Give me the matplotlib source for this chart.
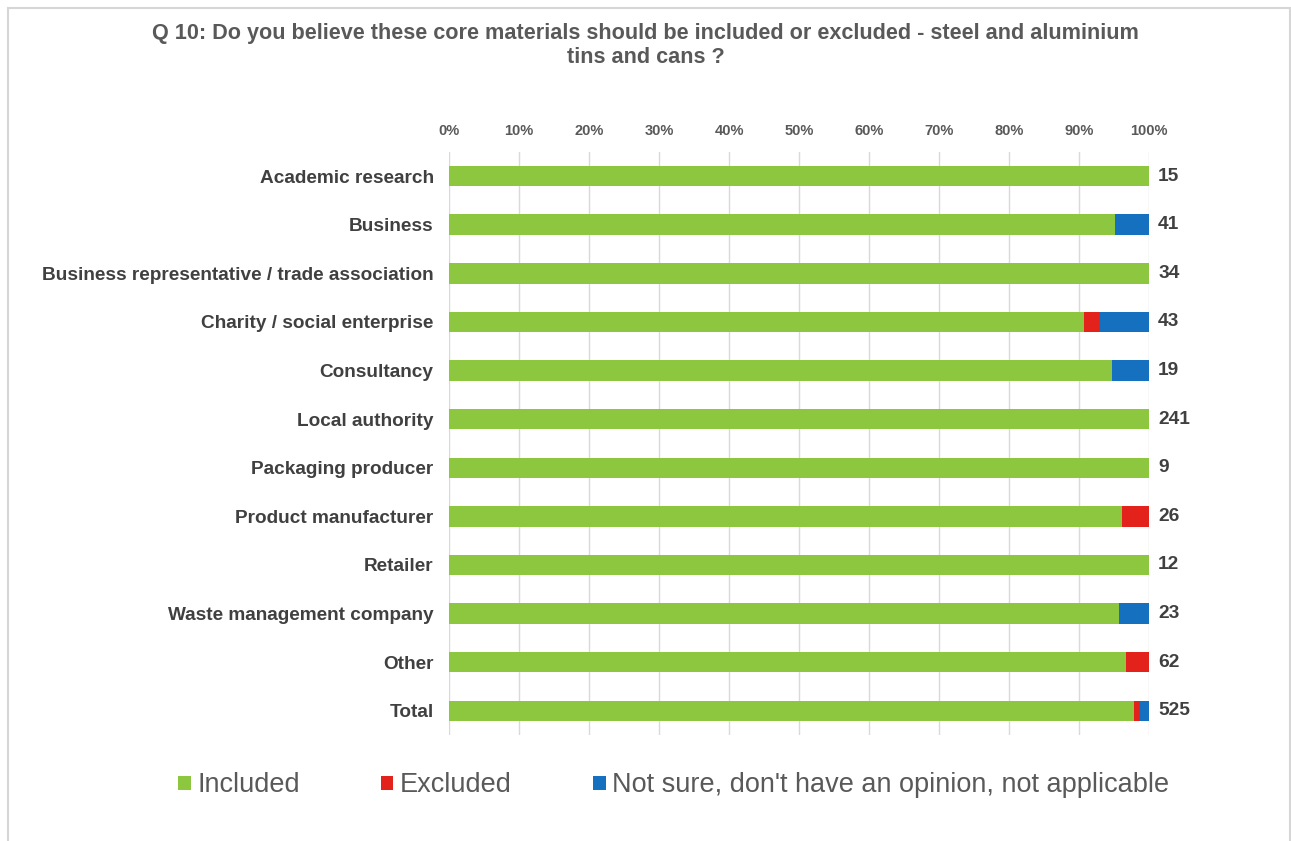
import matplotlib.pyplot as plt
from matplotlib.patches import Rectangle
import numpy as np

plt.rcParams['font.family'] = ['Liberation Sans', 'DejaVu Sans']

categories = [
    "Academic research",
    "Business",
    "Business representative / trade association",
    "Charity / social enterprise",
    "Consultancy",
    "Local authority",
    "Packaging producer",
    "Product manufacturer",
    "Retailer",
    "Waste management company",
    "Other",
    "Total",
]
included = [15, 39, 34, 39, 18, 241, 9, 25, 12, 22, 60, 514]
excluded = [0, 0, 0, 1, 0, 0, 0, 1, 0, 0, 2, 4]
not_sure = [0, 2, 0, 3, 1, 0, 0, 0, 0, 1, 0, 7]
series_names = ["Included", "Excluded", "Not sure, don't have an opinion, not applicable"]
colors = ["#8DC63F", "#E3231B", "#1570BF"]
tick_labels = [f"{v}%" for v in range(0, 101, 10)]

inc = np.array(included, dtype=float)
exc = np.array(excluded, dtype=float)
ns = np.array(not_sure, dtype=float)
totals = inc + exc + ns
parts = [inc / totals, exc / totals, ns / totals]

fig = plt.figure(figsize=(12.91, 8.41), dpi=100)
ax = fig.add_axes([0.3478, 0.126, 0.5422, 0.6935])

y = np.arange(len(categories))
left = np.zeros(len(categories))
for p, name, c in zip(parts, series_names, colors):
    ax.barh(y, p, left=left, height=0.42, color=c, label=name, zorder=3)
    left += p

ax.set_ylim(len(categories) - 0.5, -0.5)
ax.set_xlim(0, 1)
ax.set_xticks(np.linspace(0, 1, 11))
ax.set_xticklabels(tick_labels, fontsize=10.5, fontweight="bold", color="#595959")
ax.xaxis.tick_top()
ax.tick_params(axis="x", length=0, pad=10)
ax.set_yticks(y)
ax.set_yticklabels(categories, fontsize=13.7, fontweight="bold", color="#404040")
ax.tick_params(axis="y", length=0, pad=11)
ax.grid(axis="x", color="#D9D9D9", linewidth=1, zorder=0)
for s in ax.spines.values():
    s.set_visible(False)

for yi, t in zip(y, totals):
    ax.text(1.013, yi, f"{int(t)}", va="center", ha="left", fontsize=13.8,
            fontweight="bold", color="#404040")

fig.text(0.5, 0.946, "Q 10: Do you believe these core materials should be included or excluded - steel and aluminium\ntins and cans ?",
         ha="center", va="center", fontsize=15.6, fontweight="bold", color="#595959",
         linespacing=1.15)

handles, labels = ax.get_legend_handles_labels()
fig.legend(handles, labels, loc="center", bbox_to_anchor=(0.522, 0.066), ncol=3,
           frameon=False, fontsize=19.5, labelcolor="#595959", handlelength=0.45,
           handleheight=0.45, handletextpad=0.25, columnspacing=3.0)

fig.patches.append(Rectangle((0.006, -0.02), 0.993, 1.01, transform=fig.transFigure,
                             fill=False, edgecolor="#D6D6D6", linewidth=1.5))

fig.savefig("out.png", dpi=100)
